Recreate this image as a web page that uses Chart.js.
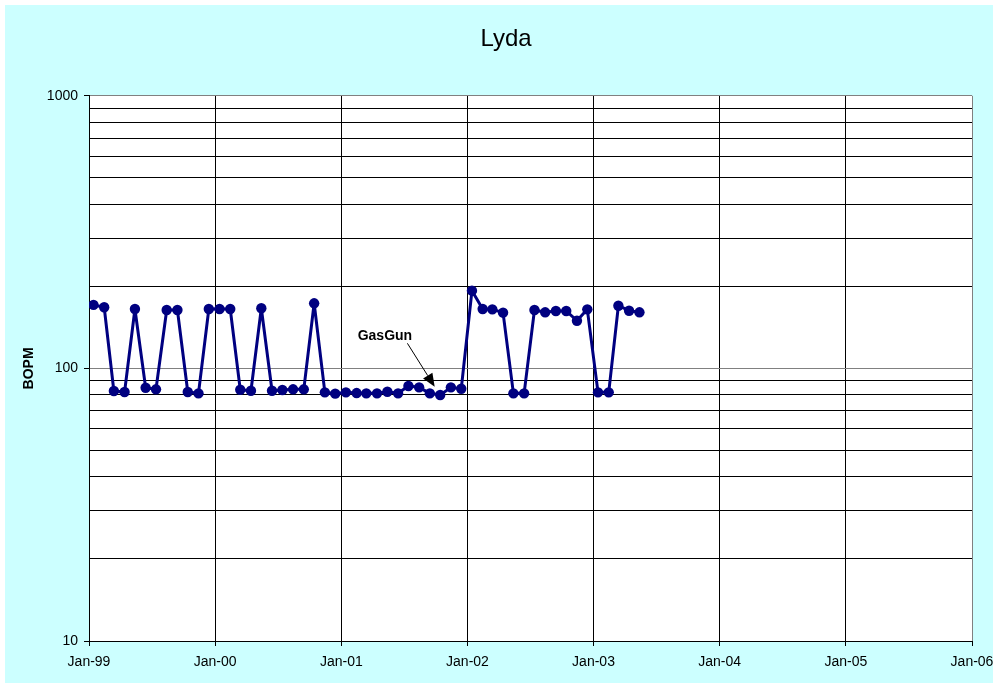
<!DOCTYPE html>
<html>
<head>
<meta charset="utf-8">
<title>Lyda</title>
<script src="https://cdn.jsdelivr.net/npm/chart.js@4.4.0/dist/chart.umd.min.js"></script>
<style>
  html, body { margin: 0; padding: 0; background: #fff; }
  #wrap { width: 998px; height: 685px; }
</style>
</head>
<body>
<div id="wrap"><canvas id="chart-lyda" width="998" height="685"></canvas></div>
<script>
// Monthly production, Jan-99 .. May-03
const months = [
  '1999-01', '1999-02', '1999-03', '1999-04', '1999-05', '1999-06', '1999-07', '1999-08', '1999-09', '1999-10', '1999-11', '1999-12',
  '2000-01', '2000-02', '2000-03', '2000-04', '2000-05', '2000-06', '2000-07', '2000-08', '2000-09', '2000-10', '2000-11', '2000-12',
  '2001-01', '2001-02', '2001-03', '2001-04', '2001-05', '2001-06', '2001-07', '2001-08', '2001-09', '2001-10', '2001-11', '2001-12',
  '2002-01', '2002-02', '2002-03', '2002-04', '2002-05', '2002-06', '2002-07', '2002-08', '2002-09', '2002-10', '2002-11', '2002-12',
  '2003-01', '2003-02', '2003-03', '2003-04', '2003-05'
];
const bopm = [
  171, 167.6, 82.6, 81.9, 165.2, 84.9, 83.8, 163.8, 163.8, 81.9, 81.0, 165.2,
  165.2, 165.2, 83.5, 82.8, 166.2, 82.8, 83.3, 83.8, 83.8, 173.3, 81.7, 80.8,
  81.7, 81.2, 81.0, 81.0, 82.1, 81.0, 86.2, 85.2, 81.0, 79.9, 85.2, 84.2,
  192.8, 165.2, 164.7, 160.1, 81.0, 81.0, 163.8, 160.6, 162.4, 162.4, 149.6, 164.7,
  81.7, 81.7, 169.8, 162.8, 160.6
];
const yearTicks = [1999, 2000, 2001, 2002, 2003, 2004, 2005, 2006];
const logTicks = [10, 20, 30, 40, 50, 60, 70, 80, 90, 100, 200, 300, 400, 500, 600, 700, 800, 900, 1000];
const labeledTicks = [10, 100, 1000];

// GasGun note: label corner, arrow start and arrow tip (date, BOPM)
const noteText = 'GasGun';
const noteLabel = { date: '2001-02-17', value: 131 };
const noteFrom = { date: '2001-07-11', value: 123.6 };
const noteTo = { date: '2001-09-28', value: 85.7 };

const FONT = 'Arial, "Liberation Sans", sans-serif';
const NAVY = '#000080';

const toTime = (s) => {
  const [y, m, d] = s.split('-').map(Number);
  return Date.UTC(y, m - 1, d || 1);
};

const backgroundPlugin = {
  id: 'background',
  beforeDraw(chart) {
    const { ctx, chartArea: a } = chart;
    ctx.save();
    ctx.fillStyle = '#ffffff';
    ctx.fillRect(0, 0, chart.width, chart.height);
    ctx.fillStyle = '#ccffff';
    ctx.fillRect(5, 5, chart.width - 10, chart.height - 7);
    ctx.fillStyle = '#ffffff';
    ctx.fillRect(a.left, a.top, a.right - a.left, a.bottom - a.top);
    ctx.restore();
  }
};

const notePlugin = {
  id: 'gasgun',
  afterDatasetsDraw(chart) {
    const { ctx, scales: { x, y } } = chart;
    const lx = x.getPixelForValue(toTime(noteLabel.date));
    const ly = y.getPixelForValue(noteLabel.value);
    const fx = x.getPixelForValue(toTime(noteFrom.date));
    const fy = y.getPixelForValue(noteFrom.value);
    const tx = x.getPixelForValue(toTime(noteTo.date));
    const ty = y.getPixelForValue(noteTo.value);
    ctx.save();
    ctx.font = 'bold 14px ' + FONT;
    ctx.fillStyle = '#000';
    ctx.textAlign = 'left';
    ctx.textBaseline = 'middle';
    ctx.fillText(noteText, lx, ly);

    const ang = Math.atan2(ty - fy, tx - fx);
    const headLen = 13, headW = 5.5;
    const bx = tx - headLen * Math.cos(ang);
    const by = ty - headLen * Math.sin(ang);
    ctx.strokeStyle = '#000';
    ctx.lineWidth = 1;
    ctx.beginPath();
    ctx.moveTo(fx, fy);
    ctx.lineTo(bx, by);
    ctx.stroke();
    ctx.beginPath();
    ctx.moveTo(tx, ty);
    ctx.lineTo(bx + headW * Math.sin(ang), by - headW * Math.cos(ang));
    ctx.lineTo(bx - headW * Math.sin(ang), by + headW * Math.cos(ang));
    ctx.closePath();
    ctx.fill();
    ctx.restore();
  }
};

const points = months.map((m, i) => ({ x: toTime(m + '-14'), y: bopm[i] }));
const xMin = Date.UTC(yearTicks[0], 0, 1);
const xMax = Date.UTC(yearTicks[yearTicks.length - 1], 0, 1);

new Chart(document.getElementById('chart-lyda').getContext('2d'), {
  type: 'line',
  data: {
    datasets: [{
      label: 'Lyda',
      data: points,
      borderColor: NAVY,
      backgroundColor: NAVY,
      borderWidth: 3,
      borderJoinStyle: 'round',
      pointRadius: 5.2,
      pointBorderWidth: 0,
      pointBackgroundColor: NAVY,
      tension: 0
    }]
  },
  options: {
    responsive: false,
    animation: false,
    layout: { padding: { left: 14, right: 0, top: 0, bottom: 0 } },
    plugins: {
      legend: { display: false },
      tooltip: { enabled: false },
      title: {
        display: true,
        text: 'Lyda',
        color: '#000',
        font: { family: FONT, size: 24, weight: 'normal' },
        padding: { top: 25, bottom: 42 }
      }
    },
    scales: {
      x: {
        type: 'linear',
        min: xMin,
        max: xMax,
        afterBuildTicks: (s) => { s.ticks = yearTicks.map(yr => ({ value: Date.UTC(yr, 0, 1) })); },
        afterFit: (s) => { s.height = 44; s.paddingRight = 26; s.paddingLeft = 0; },
        ticks: {
          autoSkip: false,
          maxRotation: 0,
          padding: 8,
          color: '#000',
          font: { family: FONT, size: 14 },
          callback: (v) => 'Jan-' + String(new Date(v).getUTCFullYear()).slice(2)
        },
        grid: {
          color: (c) => (c.tick && c.tick.value === xMax ? '#808080' : '#000'),
          tickColor: '#000',
          tickLength: 5
        },
        border: { color: '#000' }
      },
      y: {
        type: 'logarithmic',
        min: 10,
        max: 1000,
        afterBuildTicks: (s) => { s.ticks = logTicks.map(v => ({ value: v })); },
        afterFit: (s) => { s.width = 75; },
        ticks: {
          autoSkip: false,
          padding: 6,
          color: '#000',
          font: { family: FONT, size: 14 },
          callback: (v) => (labeledTicks.includes(v) ? String(v) : '')
        },
        grid: {
          color: (c) => (c.tick && labeledTicks.includes(c.tick.value) ? '#808080' : '#000'),
          tickColor: (c) => (c.tick && labeledTicks.includes(c.tick.value) ? '#000' : 'rgba(0,0,0,0)'),
          tickLength: 5
        },
        border: { color: '#000' },
        title: {
          display: true,
          text: 'BOPM',
          color: '#000',
          font: { family: FONT, size: 14, weight: 'bold' },
          padding: { top: 7, bottom: 0 }
        }
      }
    }
  },
  plugins: [backgroundPlugin, notePlugin]
});
</script>
</body>
</html>
